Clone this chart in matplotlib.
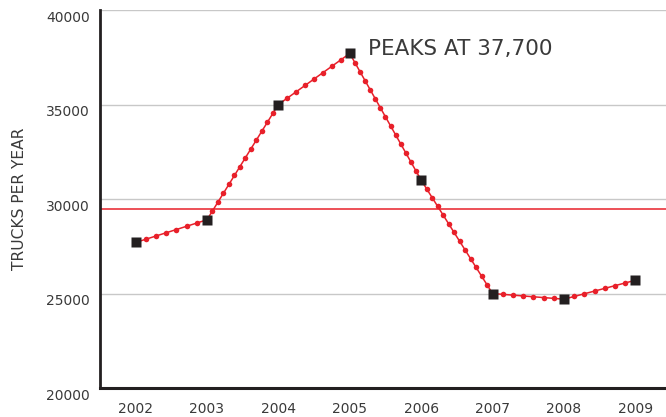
import numpy as np
import matplotlib
matplotlib.use("Agg")
import matplotlib.pyplot as plt
from matplotlib.transforms import ScaledTranslation

# Annual truck counts
years = [2002, 2003, 2004, 2005, 2006, 2007, 2008, 2009]
trucks = [27700, 28900, 35000, 37700, 31000, 25000, 24700, 25700]
y_ticks = [20000, 25000, 30000, 35000, 40000]
peak_label = "PEAKS AT 37,700"
y_title = "TRUCKS PER YEAR"

RED = "#e8202a"
INK = "#231f20"
GRID = "#c8c8c8"
TEXT = "#3a3a3a"

plt.rcParams["font.family"] = ["DejaVu Sans"]

fig = plt.figure(figsize=(6.66, 4.17), dpi=100)
ax = fig.add_axes([0.150, 0.0695, 0.850, 0.9065])
ax.set_xlim(2001.5, 2009.43)
ax.set_ylim(20000, 40000)

# grid and spines
ax.set_yticks(y_ticks)
ax.set_xticks(years)
ax.yaxis.grid(True, color=GRID, lw=1.0, zorder=0)
ax.set_axisbelow(True)
for side in ("top", "right"):
    ax.spines[side].set_visible(False)
ax.spines["left"].set_color(INK)
ax.spines["left"].set_linewidth(2.0)
ax.spines["bottom"].set_color(INK)
ax.spines["bottom"].set_linewidth(2.2)
ax.tick_params(length=0)
ax.tick_params(axis="y", labelsize=10, labelcolor=TEXT, pad=7)
ax.tick_params(axis="x", labelsize=10, labelcolor=TEXT, pad=10)
ax.set_xticklabels([str(v) for v in years])
ax.set_yticklabels([str(v) for v in y_ticks])
shift = ScaledTranslation(0, -6 / 100, fig.dpi_scale_trans)
for lab in ax.get_yticklabels():
    lab.set_transform(lab.get_transform() + shift)

ax.set_ylabel(y_title, fontsize=11.2, color=TEXT, labelpad=14)

# average line
ax.axhline(np.mean(trucks), color=RED, lw=1.1, zorder=1)

# connecting line with dots spaced evenly along each segment
ax.plot(years, trucks, color=RED, lw=1.1, zorder=2)

fig.canvas.draw()
to_disp = ax.transData
to_data = ax.transData.inverted()
pts = to_disp.transform(np.column_stack([years, trucks]))
dot_pts = []
for a, b in zip(pts[:-1], pts[1:]):
    L = np.hypot(*(b - a))
    n = max(2, int(round(L / 10.7)))
    f = np.arange(1, n)[:, None] / n
    dot_pts.append(to_data.transform(a + f * (b - a)))
dots = np.vstack(dot_pts)
ax.plot(dots[:, 0], dots[:, 1], "o", color=RED, ms=4.0, mec="none", zorder=3)

# yearly points
ax.plot(years, trucks, "s", color=INK, ms=7.2, mec="none", zorder=4)

# peak annotation
i_peak = int(np.argmax(trucks))
ax.annotate(peak_label, xy=(years[i_peak], trucks[i_peak]), xytext=(13.2, -1.0),
            textcoords="offset points", fontsize=15.5, color=TEXT,
            ha="left", va="baseline")

fig.savefig("out.png", dpi=100)
